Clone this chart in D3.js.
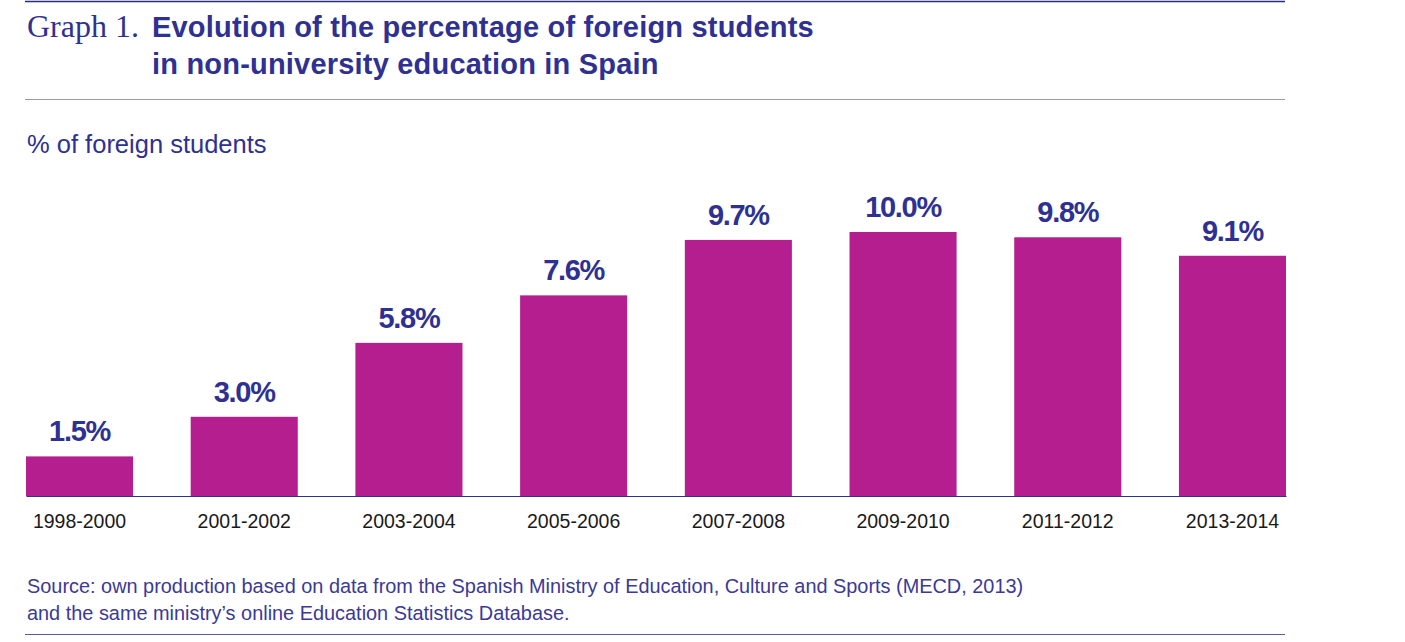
<!DOCTYPE html>
<html>
<head>
<meta charset="utf-8">
<script src="https://cdn.jsdelivr.net/npm/d3@7"></script>
<style>
  body { margin: 0; background: #fff; }
  text { font-family: "Liberation Sans", Arial, sans-serif; }
</style>
</head>
<body>
<div id="chart"></div>
<script>
// chart data
var periods = ["1998-2000", "2001-2002", "2003-2004", "2005-2006",
               "2007-2008", "2009-2010", "2011-2012", "2013-2014"];
var shares = [1.5, 3.0, 5.8, 7.6, 9.7, 10.0, 9.8, 9.1];

var navy = "#2e3192";
var barColor = "#b41e8e";

var svg = d3.select("#chart").append("svg")
  .attr("width", 1405)
  .attr("height", 642);

// rules
svg.append("line").attr("x1", 25).attr("x2", 1285).attr("y1", 1.5).attr("y2", 1.5)
  .style("stroke", "#2b2a78").style("stroke-width", 1.5);
svg.append("line").attr("x1", 25).attr("x2", 1285).attr("y1", 99.5).attr("y2", 99.5)
  .style("stroke", "#9795c6").style("stroke-width", 1.2);
svg.append("line").attr("x1", 25).attr("x2", 1285).attr("y1", 634.5).attr("y2", 634.5)
  .style("stroke", "#5a58a0").style("stroke-width", 1.2);

// title
svg.append("text")
  .attr("x", 27).attr("y", 37)
  .style("font-family", "'Liberation Serif', serif")
  .style("font-size", "32px")
  .style("fill", navy)
  .text("Graph 1.");

svg.selectAll(".title")
  .data(["Evolution of the percentage of foreign students",
         "in non-university education in Spain"])
  .enter().append("text")
    .attr("x", 152)
    .attr("y", function (d, i) { return 37 + i * 37; })
    .style("font-size", "29px")
    .style("font-weight", "bold")
    .style("letter-spacing", "0.2px")
    .style("fill", navy)
    .text(function (d) { return d; });

svg.append("text")
  .attr("x", 27).attr("y", 153)
  .style("font-size", "25.5px")
  .style("fill", navy)
  .text("% of foreign students");

// scales
var x = d3.scaleBand().domain(periods).range([26, 1286]).paddingInner(0.35).paddingOuter(0);
var y = d3.scaleLinear().domain([0, 10]).range([496, 232]);

// bars
svg.selectAll(".bar")
  .data(shares)
  .enter().append("rect")
    .attr("x", function (d, i) { return x(periods[i]); })
    .attr("y", function (d) { return y(d); })
    .attr("width", x.bandwidth())
    .attr("height", function (d) { return y(0) - y(d); })
    .style("fill", barColor);

// baseline
var xAxis = svg.append("g")
  .attr("transform", "translate(0," + y(0) + ")")
  .call(d3.axisBottom(x).tickSize(0).tickPadding(18));
xAxis.select(".domain").style("stroke", navy).style("stroke-width", 1.2);
xAxis.selectAll("text")
  .style("font-family", "'Liberation Sans', Arial, sans-serif")
  .style("font-size", "19.5px")
  .style("fill", "#1a1a1a");

// value labels
svg.selectAll(".val")
  .data(shares)
  .enter().append("text")
    .attr("x", function (d, i) { return x(periods[i]) + x.bandwidth() / 2; })
    .attr("y", function (d) { return y(d) - 15; })
    .attr("text-anchor", "middle")
    .style("font-size", "29px")
    .style("font-weight", "bold")
    .style("letter-spacing", "-1.3px")
    .style("fill", navy)
    .text(function (d) { return d.toFixed(1) + "%"; });

// source
svg.selectAll(".src")
  .data(["Source: own production based on data from the Spanish Ministry of Education, Culture and Sports (MECD, 2013)",
         "and the same ministry\u2019s online Education Statistics Database."])
  .enter().append("text")
    .attr("x", 27)
    .attr("y", function (d, i) { return 593 + i * 27; })
    .style("font-size", "19.9px")
    .style("fill", "#3b3a96")
    .text(function (d) { return d; });
</script>
</body>
</html>
